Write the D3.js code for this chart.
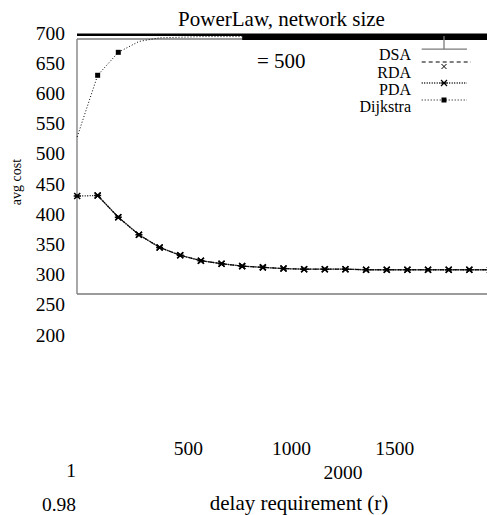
<!DOCTYPE html>
<html>
<head>
<meta charset="utf-8">
<script src="https://cdn.jsdelivr.net/npm/d3@7"></script>
<style>
body { margin: 0; background: #fff; }
text { font-family: "Liberation Serif", "Times New Roman", serif; fill: #000; }
</style>
</head>
<body>
<svg id="chart" width="487" height="515"></svg>
<script>
// delay requirement (r) for each measured point
var delays = [1, 100, 200, 300, 400, 500, 600, 700, 800, 900, 1000,
	1100, 1200, 1300, 1400, 1500, 1600, 1700, 1800, 1900, 2000];

// avg cost per algorithm
var pda = [430, 431, 395, 366, 345, 332, 323, 318, 314, 312, 310,
	309, 309, 309, 308, 308, 308, 308, 308, 308, 308];
var rda = [null, 431, 395, 366, 345, 332, 323, 318, 314, 312, 310,
	309, 309, 309, 308, 308, 308, 308, 308, 308, 308];
var dsa = [null, 431, 395, 366, 345, 332, 323, 318, 314, 312, 310,
	309, 309, 309, 308, 308, 308, 308, 308, 308, 308];
var dijkstra = [528, 630, 668, 686, 692, 693, 694, 694, 694, 694, 694,
	694, 694, 694, 694, 694, 694, 694, 694, 694, 694];

var yTicks = [700, 650, 600, 550, 500, 450, 400, 350, 300, 250, 200];
var xTicks = [500, 1000, 1500];
var legendNames = ["DSA", "RDA", "PDA", "Dijkstra"];

var title = "PowerLaw, network size";
var subtitle = "= 500";
var xLabel = "delay requirement (r)";
var yLabel = "avg cost";

var serif = "'Liberation Serif', 'Times New Roman', serif";

var svg = d3.select("#chart");

var plotLeft = 77, plotTop = 39, plotBottom = 294, plotRight = 487;

var x = d3.scaleLinear().domain([0, 2000]).range([77, 490]);
var y = d3.scaleLinear().domain([200, 700]).range([335, 33]);

var gray = "#7a7a7a";

// frame
var frame = svg.append("g");
frame.append("line")
    .attr("x1", plotLeft).attr("y1", plotTop).attr("x2", plotLeft).attr("y2", plotBottom)
    .style("stroke", gray).style("stroke-width", 1.3);
frame.append("line")
    .attr("x1", plotLeft).attr("y1", plotBottom).attr("x2", plotRight).attr("y2", plotBottom)
    .style("stroke", gray).style("stroke-width", 1.3);
frame.append("line")
    .attr("x1", plotLeft).attr("y1", plotTop).attr("x2", plotRight).attr("y2", plotTop)
    .style("stroke", gray).style("stroke-width", 1.3);

var pts = function (values) {
	return values.map(function (v, i) { return { x: delays[i], v: v }; });
};

var line = d3.line()
    .defined(function (d) { return d.v !== null; })
    .x(function (d) { return x(d.x); })
    .y(function (d) { return y(d.v); });

var series = [
	{ values: dsa, stroke: gray, width: 1.3, dash: null },
	{ values: rda, stroke: "#000", width: 1, dash: "4,3" },
	{ values: pda, stroke: "#000", width: 1.3, dash: "1,1.5" },
	{ values: dijkstra, stroke: "#000", width: 1, dash: "1,2" }
];

svg.append("g").selectAll("path")
    .data(series)
  .enter()
  .append("path")
    .attr("d", function (d) { return line(pts(d.values)); })
    .style("fill", "none")
    .style("stroke", function (d) { return d.stroke; })
    .style("stroke-width", function (d) { return d.width; })
    .style("stroke-dasharray", function (d) { return d.dash; });

// heavy top band
svg.append("line")
    .attr("x1", plotLeft).attr("y1", 34.7).attr("x2", plotRight).attr("y2", 34.7)
    .style("stroke", "#000").style("stroke-width", 2.5);
svg.append("line")
    .attr("x1", x(800)).attr("y1", 37).attr("x2", plotRight).attr("y2", 37)
    .style("stroke", "#000").style("stroke-width", 6);

var starPath = "M-3,-3L3,3M-3,3L3,-3M-3.5,0L3.5,0";
var crossPath = "M-3,-3L3,3M-3,3L3,-3";

// markers, skipped when they would touch the frame
var markerData = function (values, skipEdge) {
	return pts(values).filter(function (d) {
		if (d.v === null) return false;
		if (y(d.v) <= plotTop + 5) return false;
		if (skipEdge && x(d.x) <= plotLeft + 3) return false;
		return true;
	});
};

svg.append("g").selectAll("path")
    .data(markerData(rda))
  .enter()
  .append("path")
    .attr("transform", function (d) { return "translate(" + x(d.x) + "," + y(d.v) + ")"; })
    .attr("d", crossPath)
    .style("stroke", "#000").style("stroke-width", 1.5);

var pdaMarks = svg.append("g").selectAll("g")
    .data(markerData(pda))
  .enter()
  .append("g")
    .attr("transform", function (d) { return "translate(" + x(d.x) + "," + y(d.v) + ")"; });
pdaMarks.append("path")
    .attr("d", starPath)
    .style("stroke", "#000").style("stroke-width", 1.5);
pdaMarks.append("rect")
    .attr("x", -1.5).attr("y", -1.5).attr("width", 3).attr("height", 3)
    .style("fill", "#000");

svg.append("g").selectAll("rect")
    .data(markerData(dijkstra, true))
  .enter()
  .append("rect")
    .attr("x", function (d) { return x(d.x) - 2.5; })
    .attr("y", function (d) { return y(d.v) - 2.5; })
    .attr("width", 5).attr("height", 5)
    .style("fill", "#000");

// y tick labels
svg.append("g").selectAll("text")
    .data(yTicks)
  .enter()
  .append("text")
    .attr("x", 65)
    .attr("y", function (d) { return y(d) + 6.5; })
    .attr("text-anchor", "end")
    .attr("font-family", serif)
    .style("font-size", "19.5px")
    .text(function (d) { return d; });

// x tick labels
svg.append("g").selectAll("text")
    .data(xTicks)
  .enter()
  .append("text")
    .attr("x", function (d) { return x(d) + 8; })
    .attr("y", 455)
    .attr("text-anchor", "middle")
    .attr("font-family", serif)
    .style("font-size", "19.5px")
    .text(function (d) { return d; });

var strays = [
	{ text: "1", x: 71, y: 477 },
	{ text: "2000", x: 343, y: 479 },
	{ text: "0.98", x: 59, y: 511 }
];
svg.append("g").selectAll("text")
    .data(strays)
  .enter()
  .append("text")
    .attr("x", function (d) { return d.x; })
    .attr("y", function (d) { return d.y; })
    .attr("text-anchor", "middle")
    .attr("font-family", serif)
    .style("font-size", "19.5px")
    .text(function (d) { return d.text; });

svg.append("text")
    .attr("x", 281.5).attr("y", 26)
    .attr("text-anchor", "middle")
    .attr("font-family", serif)
    .style("font-size", "21px")
    .text(title);

svg.append("text")
    .attr("x", 257).attr("y", 68)
    .attr("font-family", serif)
    .style("font-size", "21px")
    .text(subtitle);

svg.append("text")
    .attr("x", 299).attr("y", 510)
    .attr("text-anchor", "middle")
    .attr("font-family", serif)
    .style("font-size", "21px")
    .text(xLabel);

svg.append("text")
    .attr("transform", "translate(21,182) rotate(-90)")
    .attr("text-anchor", "middle")
    .attr("font-family", serif)
    .style("font-size", "14px")
    .text(yLabel);

// legend
var legend = svg.append("g");
var legendTextY = [60, 77.7, 94.5, 111.7];
var legendLineY = [49.2, 62, 83, 100];
var lx0 = 421.7, lx1 = 467, lmid = 444;

legend.selectAll("text")
    .data(legendNames)
  .enter()
  .append("text")
    .attr("x", 411)
    .attr("y", function (d, i) { return legendTextY[i]; })
    .attr("text-anchor", "end")
    .attr("font-family", serif)
    .style("font-size", "16px")
    .text(function (d) { return d; });

legend.selectAll("line.sample")
    .data(series)
  .enter()
  .append("line").classed("sample", true)
    .attr("x1", lx0)
    .attr("x2", function (d, i) { return i === 1 ? 471 : lx1; })
    .attr("y1", function (d, i) { return legendLineY[i]; })
    .attr("y2", function (d, i) { return legendLineY[i]; })
    .style("stroke", function (d) { return d.stroke; })
    .style("stroke-width", function (d) { return d.width; })
    .style("stroke-dasharray", function (d) { return d.dash; });

legend.append("line")
    .attr("x1", lmid).attr("y1", legendLineY[0]).attr("x2", lmid).attr("y2", 36)
    .style("stroke", gray).style("stroke-width", 1.3);
legend.append("path")
    .attr("transform", "translate(" + lmid + "," + 66.5 + ")")
    .attr("d", "M-2.5,-2.5L2.5,2.5M-2.5,2.5L2.5,-2.5")
    .style("stroke", "#000").style("stroke-width", 1);
legend.append("path")
    .attr("transform", "translate(" + lmid + "," + legendLineY[2] + ")")
    .attr("d", starPath)
    .style("stroke", "#000").style("stroke-width", 1.2);
legend.append("rect")
    .attr("x", lmid - 2.5).attr("y", legendLineY[3] - 2.5)
    .attr("width", 5).attr("height", 5)
    .style("fill", "#000");
</script>
</body>
</html>
